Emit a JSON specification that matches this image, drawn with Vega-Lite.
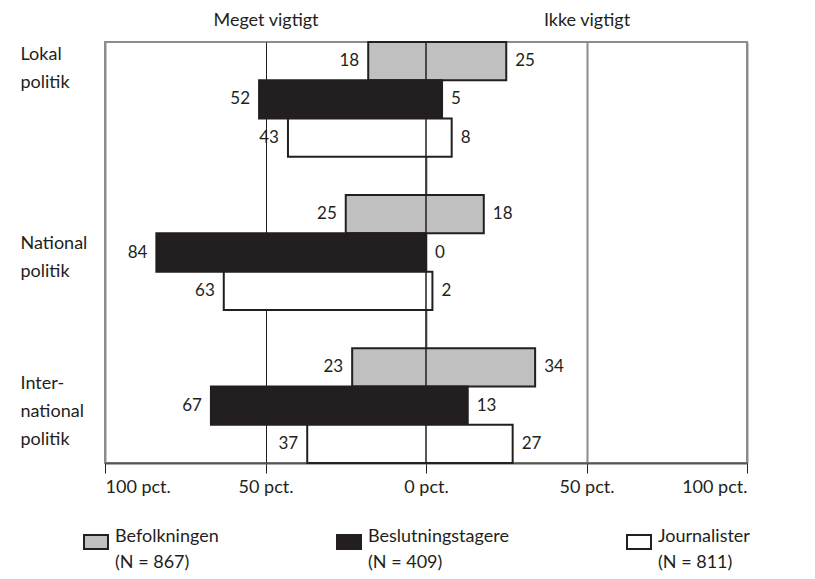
{
  "$schema": "https://vega.github.io/schema/vega-lite/v6.json",
  "width": 642,
  "height": 421,
  "autosize": {"type": "none"},
  "padding": {"left": 105, "top": 42, "right": 68, "bottom": 116},
  "background": "white",
  "config": {
    "view": {"stroke": "#8c8c8c", "strokeWidth": 2},
    "font": "Lato",
    "text": {"font": "Lato"}
  },
  "data": {
    "values": [
      {"kategori": "Lokal politik", "gruppe": "Befolkningen (N = 867)", "meget_vigtigt": -18, "ikke_vigtigt": 25},
      {"kategori": "Lokal politik", "gruppe": "Beslutningstagere (N = 409)", "meget_vigtigt": -52, "ikke_vigtigt": 5},
      {"kategori": "Lokal politik", "gruppe": "Journalister (N = 811)", "meget_vigtigt": -43, "ikke_vigtigt": 8},
      {"kategori": "National politik", "gruppe": "Befolkningen (N = 867)", "meget_vigtigt": -25, "ikke_vigtigt": 18},
      {"kategori": "National politik", "gruppe": "Beslutningstagere (N = 409)", "meget_vigtigt": -84, "ikke_vigtigt": 0},
      {"kategori": "National politik", "gruppe": "Journalister (N = 811)", "meget_vigtigt": -63, "ikke_vigtigt": 2},
      {"kategori": "International politik", "gruppe": "Befolkningen (N = 867)", "meget_vigtigt": -23, "ikke_vigtigt": 34},
      {"kategori": "International politik", "gruppe": "Beslutningstagere (N = 409)", "meget_vigtigt": -67, "ikke_vigtigt": 13},
      {"kategori": "International politik", "gruppe": "Journalister (N = 811)", "meget_vigtigt": -37, "ikke_vigtigt": 27}
    ]
  },
  "resolve": {"axis": {"x": "independent"}},
  "layer": [
    {
      "mark": {"type": "bar", "stroke": "#231f20", "strokeWidth": 2},
      "encoding": {
        "y": {
          "field": "kategori", "type": "nominal",
          "sort": ["Lokal politik", "National politik", "International politik"],
          "scale": {"paddingInner": 0.25, "paddingOuter": 0},
          "axis": {
            "title": null, "domain": false, "ticks": false, "tickSize": 0,
            "labelAlign": "left", "labelPadding": 85, "labelFontSize": 18,
            "labelLineHeight": 28, "labelColor": "#231f20", "labelLimit": 200,
            "labelBaseline": "middle",
            "labelExpr": "datum.value === 'International politik' ? ['Inter-', 'national', 'politik'] : split(datum.value, ' ')",
            "labelOffset": {"condition": [
              {"test": "datum.value === 'Lokal politik'", "value": -44},
              {"test": "datum.value === 'International politik'", "value": -22}
            ], "value": -9}
          }
        },
        "yOffset": {
          "field": "gruppe", "type": "nominal",
          "sort": ["Befolkningen (N = 867)", "Beslutningstagere (N = 409)", "Journalister (N = 811)"],
          "scale": {"paddingInner": 0, "paddingOuter": 0}
        },
        "x": {
          "field": "meget_vigtigt", "type": "quantitative",
          "scale": {"domain": [-100, 100], "nice": false},
          "axis": {
            "title": null, "values": [-100, -50, 0, 50, 100],
            "labelExpr": "abs(datum.value) + ' pct.'",
            "domainColor": "#555555", "domainWidth": 2,
            "tickColor": "#231f20", "tickSize": 10, "tickWidth": 1,
            "labelPadding": 5, "labelFontSize": 18, "labelColor": "#231f20",
            "grid": true,
            "gridColor": {"condition": {"test": "datum.value === -50", "value": "#231f20"}, "value": "#8c8c8c"},
            "gridWidth": {"condition": {"test": "datum.value === -50", "value": 1}, "value": 2}
          }
        },
        "x2": {"field": "ikke_vigtigt"},
        "fill": {
          "field": "gruppe", "type": "nominal",
          "scale": {
            "domain": ["Befolkningen (N = 867)", "Beslutningstagere (N = 409)", "Journalister (N = 811)"],
            "range": ["#c0c0c0", "#231f20", "#ffffff"]
          },
          "legend": {
            "orient": "none", "legendX": -22, "legendY": 487,
            "direction": "horizontal", "columns": 3, "columnPadding": 114,
            "title": null,
            "symbolType": "M-1,-0.58H1V0.58H-1Z", "symbolSize": 576,
            "symbolStrokeColor": "#231f20", "symbolStrokeWidth": 2,
            "labelFontSize": 18, "labelFont": "Lato", "labelColor": "#231f20",
            "labelOffset": 6, "labelBaseline": "alphabetic",
            "labelLimit": 300,
            "labelExpr": "[slice(datum.value, 0, indexof(datum.value, ' (')), slice(datum.value, indexof(datum.value, ' (') + 1)]",
            "encode": {"labels": {"update": {"lineHeight": {"value": 26}}}}
          }
        }
      }
    },
    {
      "data": {"values": [{"nul": 0}]},
      "mark": {"type": "rule", "color": "#231f20", "strokeWidth": 1.5},
      "encoding": {
        "x": {
          "field": "nul", "type": "quantitative",
          "axis": {
            "orient": "top", "values": [-50, 50], "title": null,
            "labelExpr": "datum.value < 0 ? 'Meget vigtigt' : 'Ikke vigtigt'",
            "domain": false, "ticks": false, "grid": false,
            "labelPadding": 13, "labelFontSize": 18, "labelColor": "#231f20"
          }
        }
      }
    },
    {
      "mark": {"type": "text", "align": "right", "baseline": "middle", "dx": -9, "fontSize": 17, "color": "#231f20", "text": {"expr": "abs(datum.meget_vigtigt)"}},
      "encoding": {
        "y": {"field": "kategori", "type": "nominal", "sort": ["Lokal politik", "National politik", "International politik"]},
        "yOffset": {"field": "gruppe", "type": "nominal", "sort": ["Befolkningen (N = 867)", "Beslutningstagere (N = 409)", "Journalister (N = 811)"]},
        "x": {"field": "meget_vigtigt", "type": "quantitative", "axis": null}
      }
    },
    {
      "mark": {"type": "text", "align": "left", "baseline": "middle", "dx": 9, "fontSize": 17, "color": "#231f20"},
      "encoding": {
        "y": {"field": "kategori", "type": "nominal", "sort": ["Lokal politik", "National politik", "International politik"]},
        "yOffset": {"field": "gruppe", "type": "nominal", "sort": ["Befolkningen (N = 867)", "Beslutningstagere (N = 409)", "Journalister (N = 811)"]},
        "x": {"field": "ikke_vigtigt", "type": "quantitative", "axis": null},
        "text": {"field": "ikke_vigtigt", "type": "quantitative"}
      }
    }
  ]
}
